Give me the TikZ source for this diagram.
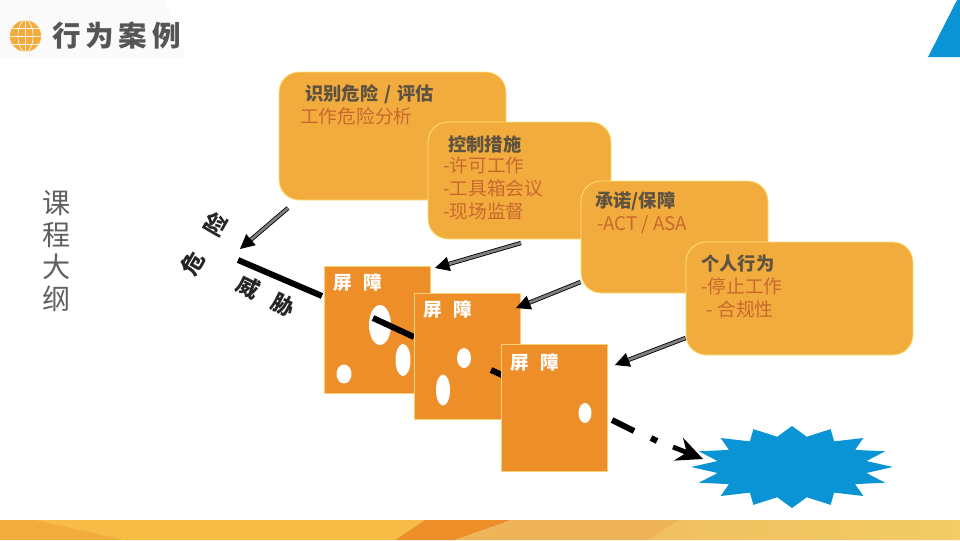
\documentclass[tikz,border=0pt]{standalone}
\usepackage{fontspec}
\setmainfont{Noto Sans CJK SC}
\usepackage{xcolor}
\usetikzlibrary{arrows.meta,shapes.geometric}
\definecolor{boxorange}{HTML}{F2AC3E}
\definecolor{barrierorange}{HTML}{EE8E28}
\definecolor{burstblue}{HTML}{0A94D6}
\definecolor{headgray}{HTML}{5E5240}
\definecolor{bodyrust}{HTML}{C9682E}
\definecolor{titlegray}{HTML}{555555}
\definecolor{sidegray}{HTML}{606060}
\definecolor{footyellow}{HTML}{F6BC45}
\definecolor{foottan}{HTML}{EFB458}
\definecolor{footleft}{HTML}{F0C060}
\definecolor{footright}{HTML}{F2CC66}
\newcommand{\pxfont}[2]{\fontsize{#1}{#2}\selectfont}
\tikzset{
  infobox/.style={draw=boxorange!60!yellow!60!white,line width=0.6pt,fill=boxorange,rounded corners=5mm,inner sep=0pt},
  barrierbox/.style={draw=barrierorange!70!yellow!60!white,line width=0.4pt,fill=barrierorange,minimum width=26.5mm,inner sep=0pt},
  hole/.style={fill=white,ellipse,inner sep=0pt},
  boxhead/.style={anchor=west,inner sep=0pt,text=headgray,font=\pxfont{13}{16.3}\bfseries},
  boxbody/.style={anchor=north west,inner sep=0pt,align=left,text=bodyrust,font=\pxfont{13.3}{16.3}},
  barrierlabel/.style={anchor=west,inner sep=0pt,text=white,font=\pxfont{13.2}{16}\bfseries},
  threatlabel/.style={inner sep=0pt,text=black!85,font=\pxfont{16}{19}\bfseries},
  threatline/.style={line width=1.5mm,black},
  stripearrow/.style={draw=black,line width=0.6pt,double=black!50,double distance=1.9pt,
    -{Triangle[length=3.6mm,width=3.6mm,fill=black]}},
}
\begin{document}
\begin{tikzpicture}[x=0.25mm,y=-0.25mm]
  \useasboundingbox (0,0) rectangle (960,540);
  \fill[white] (0,0) rectangle (960,540);

  % Header
  \fill[black!2] (0,0) -- (165,0) -- (185,57) -- (0,57) -- cycle;
  \fill[burstblue] (928,57) -- (957,0) -- (960,0) -- (960,57) -- cycle;
  \fill[boxorange] (25.5,36) circle (16);
  \begin{scope}[white!85!boxorange,line width=0.5pt]
    \draw (25.5,36) circle (16);
    \draw (25.5,36) ellipse (7.5 and 16);
    \draw (25.5,20) -- (25.5,52);
    \draw (9.5,36) -- (41.5,36);
    \draw (12,28) -- (39,28);
    \draw (12,44) -- (39,44);
  \end{scope}
  \node[anchor=west,inner sep=0pt,text=titlegray,font=\pxfont{20.3}{24}\bfseries] (title) at (52,36) {行\,为\,案\,例};

  % Footer
  \fill[boxorange] (0,520) rectangle (125,540);
  \fill[footyellow] (35,520) -- (425,520) -- (395,540) -- (125,540) -- cycle;
  \fill[barrierorange] (425,520) -- (512,520) -- (455,540) -- (395,540) -- cycle;
  \fill[foottan] (512,520) -- (680,520) -- (650,540) -- (455,540) -- cycle;
  \shade[left color=footleft,right color=footright] (680,520) -- (960,520) -- (960,540) -- (650,540) -- cycle;

  % Side title
  \node[align=center,inner sep=0pt,text=sidegray,font=\pxfont{20}{22.9}] (outline) at (56.5,251) {课\\程\\大\\纲};

  % Threat labels
  \node[threatlabel,rotate=60] (hazard) at (204,243.5) {危\hspace{16pt}险};
  \node[threatlabel,rotate=-27] (threat) at (265.5,296) {威\hspace{12pt}胁};

  % First leg of the threat line
  \coordinate (threatstart) at (238,260);
  \coordinate (threatin) at (322,296);
  \draw[threatline] (threatstart) -- (threatin);

  % Barrier 1
  \node[barrierbox,minimum height=31.75mm] (barrierA) at (377,329.5) {};
  \node[barrierlabel] (barrierAlabel) at (333,282) {屏\hspace{8pt}障};
  \node[hole,minimum width=5.5mm,minimum height=10mm] (holeA) at (380,325) {};
  \node[hole,minimum width=3.75mm,minimum height=8mm] (holeB) at (403,360) {};
  \node[hole,minimum width=3.75mm,minimum height=4.75mm] (holeC) at (344,374) {};
  \coordinate (threatB) at (373,318);
  \coordinate (threatC) at (414,337);
  \draw[threatline] (threatB) -- (threatC);

  % Barrier 2
  \node[barrierbox,minimum height=31.5mm] (barrierB) at (467,356) {};
  \node[barrierlabel] (barrierBlabel) at (423,309) {屏\hspace{8pt}障};
  \node[hole,minimum width=3.5mm,minimum height=5mm] (holeD) at (464,358) {};
  \node[hole,minimum width=3.5mm,minimum height=7.75mm] (holeE) at (443,390) {};
  \coordinate (threatD) at (491,370);
  \coordinate (threatE) at (502,375);
  \draw[threatline] (threatD) -- (threatE);

  % Barrier 3
  \node[barrierbox,minimum height=31.75mm] (barrierC) at (554,408) {};
  \node[barrierlabel] (barrierClabel) at (510,362) {屏\hspace{8pt}障};
  \node[hole,minimum width=3.25mm,minimum height=5mm] (holeF) at (585,413) {};

  % Top event
  \node[star,star points=16,star point ratio=1.33,fill=burstblue,inner sep=0pt,outer sep=0pt,
    minimum size=20.5mm,xscale=2.46,transform shape] (event) at (792,467) {};

  % Last legs of the threat line
  \coordinate (threatF) at (612,420);
  \coordinate (threatG) at (634,431);
  \coordinate (threatH) at (651,438);
  \coordinate (threatI) at (657,441);
  \coordinate (threatJ) at (673,447);
  \coordinate (threatK) at (703,459);
  \draw[threatline] (threatF) -- (threatG);
  \draw[threatline] (threatH) -- (threatI);
  \draw[line width=1.2mm,black,-{Stealth[length=6.5mm,width=6mm]}] (threatJ) -- (threatK);

  % Boxes
  \node[infobox,minimum width=56.75mm,minimum height=32mm] (riskbox) at (392.5,136) {};
  \node[boxhead] (riskhead) at (305,94) {识别危险\,\,/\,\,评估};
  \node[boxbody] (riskbody) at (300,107) {工作危险分析};

  \node[infobox,minimum width=45.75mm,minimum height=29.25mm] (controlbox) at (519.5,180.5) {};
  \node[boxhead] (controlhead) at (448,144) {控制措施};
  \node[boxbody] (controlbody) at (443,157) {-许可工作\\-工具箱会议\\-现场监督};

  \node[infobox,minimum width=46.75mm,minimum height=28mm] (promisebox) at (674.5,237) {};
  \node[boxhead] (promisehead) at (595,201) {承诺/保障};
  \node[boxbody] (promisebody) at (597,215) {-ACT / ASA};

  \node[infobox,minimum width=56.75mm,minimum height=28.25mm] (personbox) at (799.5,298.5) {};
  \node[boxhead] (personhead) at (701,264) {个人行为};
  \node[boxbody] (personbody) at (701,277) {-停止工作\\\hspace{4pt}- 合规性};

  % Arrows to the threat line and barriers
  \coordinate (riskout) at (288,208);
  \coordinate (riskin) at (240,249);
  \coordinate (controlout) at (521,243);
  \coordinate (controlin) at (435,268);
  \coordinate (promisein) at (516,308);
  \coordinate (personin) at (615,365);
  \draw[stripearrow] (riskout) -- (riskin);
  \draw[stripearrow] (controlout) -- (controlin);
  \draw[stripearrow] (promisebox.west |- 0,282) -- (promisein);
  \draw[stripearrow] (personbox.west |- 0,338) -- (personin);
\end{tikzpicture}
\end{document}
